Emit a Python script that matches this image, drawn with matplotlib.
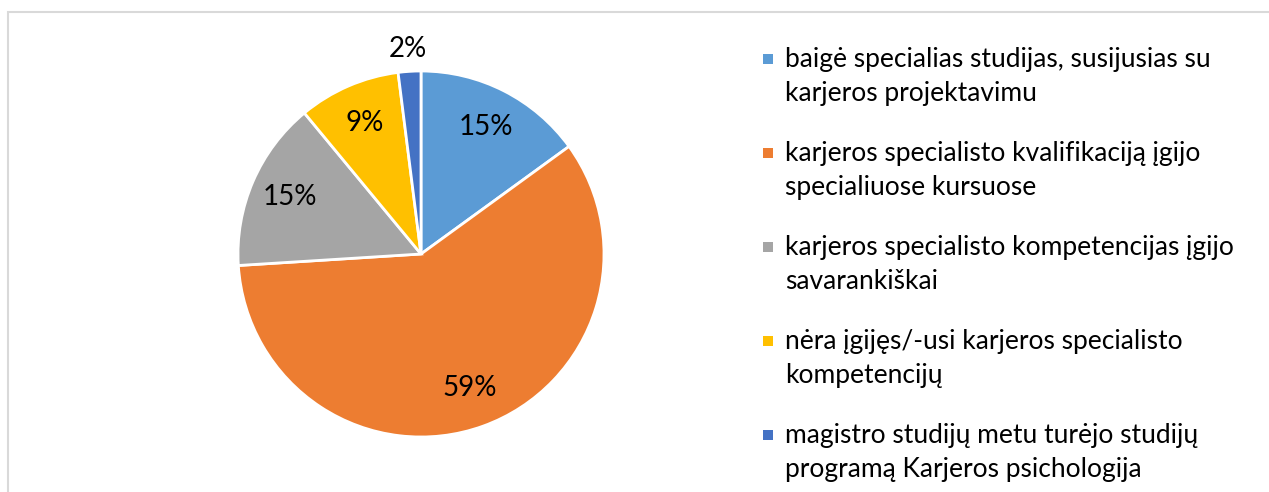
import numpy as np
import matplotlib
matplotlib.use('Agg')
import matplotlib.pyplot as plt
from matplotlib.patches import Rectangle

plt.rcParams['font.family'] = ['Lato', 'DejaVu Sans']

labels = [
    'baigė specialias studijas, susijusias su\nkarjeros projektavimu',
    'karjeros specialisto kvalifikaciją įgijo\nspecialiuose kursuose',
    'karjeros specialisto kompetencijas įgijo\nsavarankiškai',
    'nėra įgijęs/-usi karjeros specialisto\nkompetencijų',
    'magistro studijų metu turėjo studijų\nprogramą Karjeros psichologija',
]
shares = [15, 59, 15, 9, 2]
colors = ['#5B9BD5', '#ED7D31', '#A5A5A5', '#FFC000', '#4472C4']

W, H = 1269, 492
fig = plt.figure(figsize=(W / 100, H / 100), dpi=100)

# light grey chart border (right/bottom edges run off the image)
fig.patches.append(Rectangle((8 / W, -0.1), 1.2, 1 - 12 / H + 0.1, transform=fig.transFigure,
                             fill=False, edgecolor='#D9D9D9', linewidth=1.5))

# pie
cx, cy, r = 421, 254, 183
ax = fig.add_axes([(cx - r) / W, 1 - (cy + r) / H, 2 * r / W, 2 * r / H])
wedges, texts, autotexts = ax.pie(
    shares, colors=colors, startangle=90, counterclock=False,
    autopct=lambda p: f'{p:.0f}%', pctdistance=0.78,
    wedgeprops=dict(edgecolor='white', linewidth=2),
    textprops=dict(fontsize=20, color='black'))
ax.set_xlim(-1, 1)
ax.set_ylim(-1, 1)
ax.axis('off')

# the tiny slice gets its label outside
w = wedges[-1]
ang = np.deg2rad((w.theta1 + w.theta2) / 2)
autotexts[-1].set_position((1.12 * np.cos(ang), 1.12 * np.sin(ang)))

# legend, marker aligned with the first line of each entry
x_mark, x_text = 763, 785
y0, step = 59, 94
for i, (lab, col) in enumerate(zip(labels, colors)):
    y = y0 + i * step
    fig.patches.append(Rectangle((x_mark / W, 1 - (y + 5) / H), 10 / W, 10 / H,
                                 transform=fig.transFigure, facecolor=col, edgecolor='none'))
    fig.text(x_text / W, 1 - (y - 12) / H, lab, fontsize=19, va='top', ha='left',
             linespacing=1.45)

fig.savefig('out.png', dpi=100)
